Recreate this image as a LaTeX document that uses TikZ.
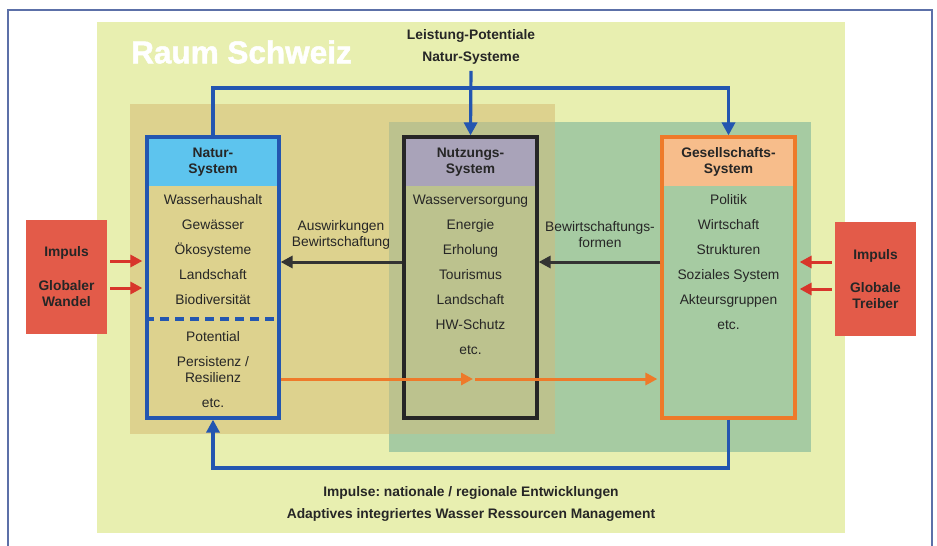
\documentclass[tikz,border=0pt]{standalone}
\usepackage{fontspec}
\setmainfont{Liberation Sans}
\newfontfamily\raumfont[BoldFeatures = {FakeBold = 1.6}]{Liberation Sans}
\usetikzlibrary{arrows.meta}

\definecolor{hgrund}{HTML}{E8EFB0}
\definecolor{sand}{HTML}{DDD28E}
\definecolor{gruen}{HTML}{A6CBA2}
\definecolor{oliv}{HTML}{BCC28E}
\definecolor{naturkopf}{HTML}{5DC4EE}
\definecolor{nutzkopf}{HTML}{A9A3B9}
\definecolor{gesellkopf}{HTML}{F7BD8B}
\definecolor{blaulinie}{HTML}{2356B0}
\definecolor{orangelinie}{HTML}{EE7A2A}
\definecolor{rotbox}{HTML}{E35B49}
\definecolor{rotpfeil}{HTML}{D8352B}
\definecolor{rahmen}{HTML}{5C70A8}
\definecolor{schrift}{HTML}{262626}

\begin{document}
\begin{tikzpicture}[x = 1pt, y = -1pt,
		titel/.style = {text = schrift, align = center, font = \fontsize{13.8pt}{16pt}\selectfont\bfseries},
		eintrag/.style = {text = schrift, inner sep = 0pt, text height = 10pt, text depth = 3pt, font = \fontsize{13.8pt}{16pt}\selectfont},
		zweizeilig/.style = {text = schrift, inner sep = 0pt, align = center, font = \fontsize{13.8pt}{16pt}\selectfont},
		kopf/.style = {titel, anchor = north, inner sep = 0pt, minimum width = 132pt, minimum height = 49pt},
		system/.style = {draw, inner sep = 0pt, line width = 3.2pt, minimum width = 132pt, minimum height = 281pt},
		impuls/.style = {titel, fill = rotbox, inner sep = 0pt, minimum width = 81pt, minimum height = 114pt},
		blau/.style = {draw = blaulinie, line width = 3.2pt},
		spitze/.style = {-{Triangle[length = 13pt, width = 13pt]}},
		pfeil/.style = {line width = 3pt, -{Triangle[length = 12pt, width = 12pt]}}]

	\useasboundingbox (0,0) rectangle (937,546);

	\begin{scope}
		\draw [rahmen, line width = 1.4pt] (8,560) -- (8,10) -- (932,10) -- (932,560);
		\fill [hgrund] (97,22) rectangle (845,533);
		\fill [sand] (130,104) rectangle (555,434);
		\fill [gruen] (389,122) rectangle (811,452);
		\fill [oliv] (389,122) rectangle (555,434);
	\end{scope}

	\node [anchor = west, inner sep = 0pt, text = white, font = \fontsize{31.5pt}{36pt}\raumfont\bfseries] (raum) at (131,52) {Raum Schweiz};

	\begin{scope}
		\node [kopf, fill = naturkopf] (naturkopf) at (213,137) {Natur-\\System};
		\node [kopf, fill = nutzkopf] (nutzkopf) at (470.5,137) {Nutzungs-\\System};
		\node [kopf, fill = gesellkopf] (gesellkopf) at (728.5,137) {Gesellschafts-\\System};

		\node [system, draw = blaulinie] (natur) at (213,277.5) {};
		\node [system, draw = black!85, minimum width = 133pt] (nutzung) at (470.5,277.5) {};
		\node [system, draw = orangelinie, minimum width = 133pt] (gesell) at (728.5,277.5) {};

		\draw [blau, dash pattern = on 9pt off 6pt] (natur.west |- 0,319) -- (natur.east |- 0,319);
	\end{scope}

	\begin{scope}
		\foreach \txt [count = \i from 0] in {Wasserhaushalt, Gewässer, Ökosysteme, Landschaft, Biodiversität}
		{
			\node [eintrag] (nat\i) at (213,{201 + 25*\i}) {\txt};
		}
		\node [eintrag] (potential) at (213,338) {Potential};
		\node [zweizeilig] (persistenz) at (213,370) {Persistenz /\\Resilienz};
		\node [eintrag] (natetc) at (213,404) {etc.};

		\foreach \txt [count = \i from 0] in {Wasserversorgung, Energie, Erholung, Tourismus, Landschaft, HW-Schutz, etc.}
		{
			\node [eintrag] (nutz\i) at (470.5,{201 + 25*\i}) {\txt};
		}

		\foreach \txt [count = \i from 0] in {Politik, Wirtschaft, Strukturen, Soziales System, Akteursgruppen, etc.}
		{
			\node [eintrag] (ges\i) at (728.5,{201 + 25*\i}) {\txt};
		}
	\end{scope}

	\begin{scope}
		\node [titel] (leistung) at (471,47) {Leistung-Potentiale\\[6pt]Natur-Systeme};
		\node [titel] (impulse) at (471,504) {Impulse:\ nationale / regionale Entwicklungen\\[6pt]Adaptives integriertes Wasser Ressourcen Management};
		\node [zweizeilig] (auswirkung) at (341,235) {Auswirkungen\\Bewirtschaftung};
		\node [zweizeilig] (bewirtschaftung) at (600,235) {Bewirtschaftungs-\\formen};
	\end{scope}

	\begin{scope}
		\node [impuls] (impulslinks) at (66.5,277) {Impuls\\[18pt]Globaler\\Wandel};
		\node [impuls] (impulsrechts) at (875.5,279) {Impuls\\[17pt]Globale\\Treiber};
	\end{scope}

	\coordinate (oben) at (471,88);
	\coordinate (unten) at (471,468);
	\coordinate (mitte) at (473,379);

	\begin{scope}
		\draw [blau, spitze, shorten < = 3pt] (leistung.south) -- (nutzung.north);
		\draw [blau, spitze] (natur.north) |- (oben) -| (gesell.north);
		\draw [blau, spitze] (gesell.south) |- (unten) -| (natur.south);

		\draw [black!80, pfeil] (nutzung.west |- 0,262) -- (natur.east |- 0,262);
		\draw [black!80, pfeil] (gesell.west |- 0,262) -- (nutzung.east |- 0,262);

		\draw [orangelinie, pfeil] (natur.east |- mitte) -- (mitte);
		\draw [orangelinie, pfeil, shorten < = 2pt, shorten > = 3pt] (mitte) -- (gesell.west |- mitte);

		\draw [rotpfeil, pfeil, shorten < = 3pt, shorten > = 3pt] (impulslinks.east |- 0,261) -- (natur.west |- 0,261);
		\draw [rotpfeil, pfeil, shorten < = 3pt, shorten > = 3pt] (impulslinks.east |- 0,288) -- (natur.west |- 0,288);
		\draw [rotpfeil, pfeil, shorten < = 3pt, shorten > = 3pt] (impulsrechts.west |- 0,262) -- (gesell.east |- 0,262);
		\draw [rotpfeil, pfeil, shorten < = 3pt, shorten > = 3pt] (impulsrechts.west |- 0,289) -- (gesell.east |- 0,289);
	\end{scope}
\end{tikzpicture}
\end{document}
